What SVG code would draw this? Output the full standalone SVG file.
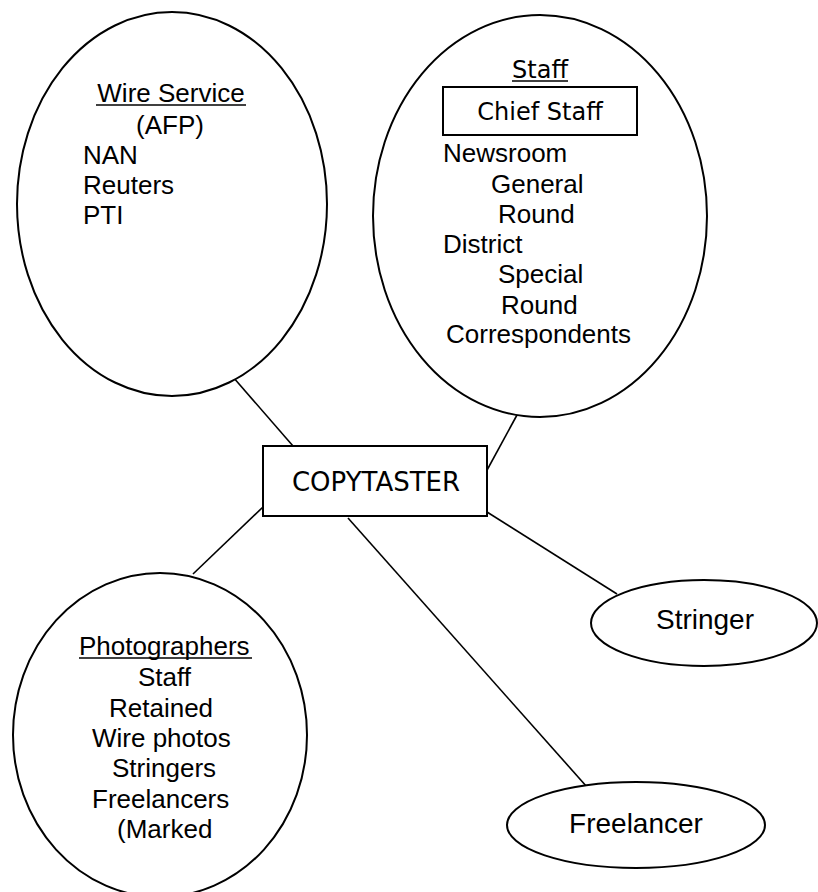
<svg xmlns="http://www.w3.org/2000/svg" width="818" height="892" viewBox="0 0 818 892">
<style>
.shape{fill:#fff;stroke:#000;stroke-width:2}
.link{stroke:#000;stroke-width:1.6;fill:none}
.ul{stroke:#000;stroke-width:1.5}
.a{font-family:"Liberation Sans",Arial,sans-serif;font-size:26px;fill:#000}
.big{font-family:"Liberation Sans",Arial,sans-serif;font-size:28px;fill:#000}
.t{font-family:"DejaVu Sans",Tahoma,Verdana,sans-serif;fill:#000}
</style>
<defs>
<clipPath id="corrClip"><rect x="400" y="300" width="300" height="48"/></clipPath>
</defs>
<rect width="818" height="892" fill="#fff"/>
<g id="connectors">
<line class="link" x1="233" y1="377" x2="293" y2="446"/>
<line class="link" x1="517" y1="415" x2="486" y2="472"/>
<line class="link" x1="263" y1="507" x2="193" y2="574"/>
<line class="link" x1="348" y1="518" x2="587" y2="787"/>
<line class="link" x1="487" y1="512" x2="617" y2="594"/>
</g>
<g id="wire-service">
<ellipse class="shape" cx="172" cy="204" rx="155" ry="192"/>
<text class="a" x="171" y="102" text-anchor="middle">Wire Service</text>
<line class="ul" x1="96" y1="105" x2="246" y2="105"/>
<text class="a" x="170" y="134" text-anchor="middle">(AFP)</text>
<text class="a" x="83" y="164">NAN</text>
<text class="a" x="83" y="194">Reuters</text>
<text class="a" x="83" y="224">PTI</text>
</g>
<g id="staff">
<ellipse class="shape" cx="540" cy="216" rx="167" ry="201"/>
<text class="t" x="540" y="78" font-size="24" text-anchor="middle">Staff</text>
<line class="ul" x1="512" y1="81" x2="568" y2="81"/>
<rect class="shape" x="443" y="87" width="194" height="48"/>
<text class="t" x="540" y="120" font-size="24" text-anchor="middle">Chief Staff</text>
<text class="a" x="443" y="162">Newsroom</text>
<text class="a" x="491" y="193">General</text>
<text class="a" x="498" y="223">Round</text>
<text class="a" x="443" y="253">District</text>
<text class="a" x="498" y="283">Special</text>
<text class="a" x="501" y="314">Round</text>
<text class="a" x="446" y="343" clip-path="url(#corrClip)">Correspondents</text>
</g>
<g id="copytaster">
<rect class="shape" x="263" y="446" width="224" height="70"/>
<text class="t" x="376" y="491" font-size="26" text-anchor="middle">COPYTASTER</text>
</g>
<g id="photographers">
<ellipse class="shape" cx="160" cy="735" rx="147" ry="162"/>
<text class="a" x="79" y="655">Photographers</text>
<line class="ul" x1="79" y1="658" x2="252" y2="658"/>
<text class="a" x="138" y="686">Staff</text>
<text class="a" x="109" y="717">Retained</text>
<text class="a" x="92" y="747">Wire photos</text>
<text class="a" x="112" y="777">Stringers</text>
<text class="a" x="92" y="808">Freelancers</text>
<text class="a" x="117" y="838">(Marked</text>
</g>
<g id="stringer">
<ellipse class="shape" cx="704" cy="623" rx="113" ry="43"/>
<text class="big" x="705" y="629" text-anchor="middle">Stringer</text>
</g>
<g id="freelancer">
<ellipse class="shape" cx="636" cy="825" rx="129" ry="43"/>
<text class="big" x="636" y="833" text-anchor="middle">Freelancer</text>
</g>
</svg>
